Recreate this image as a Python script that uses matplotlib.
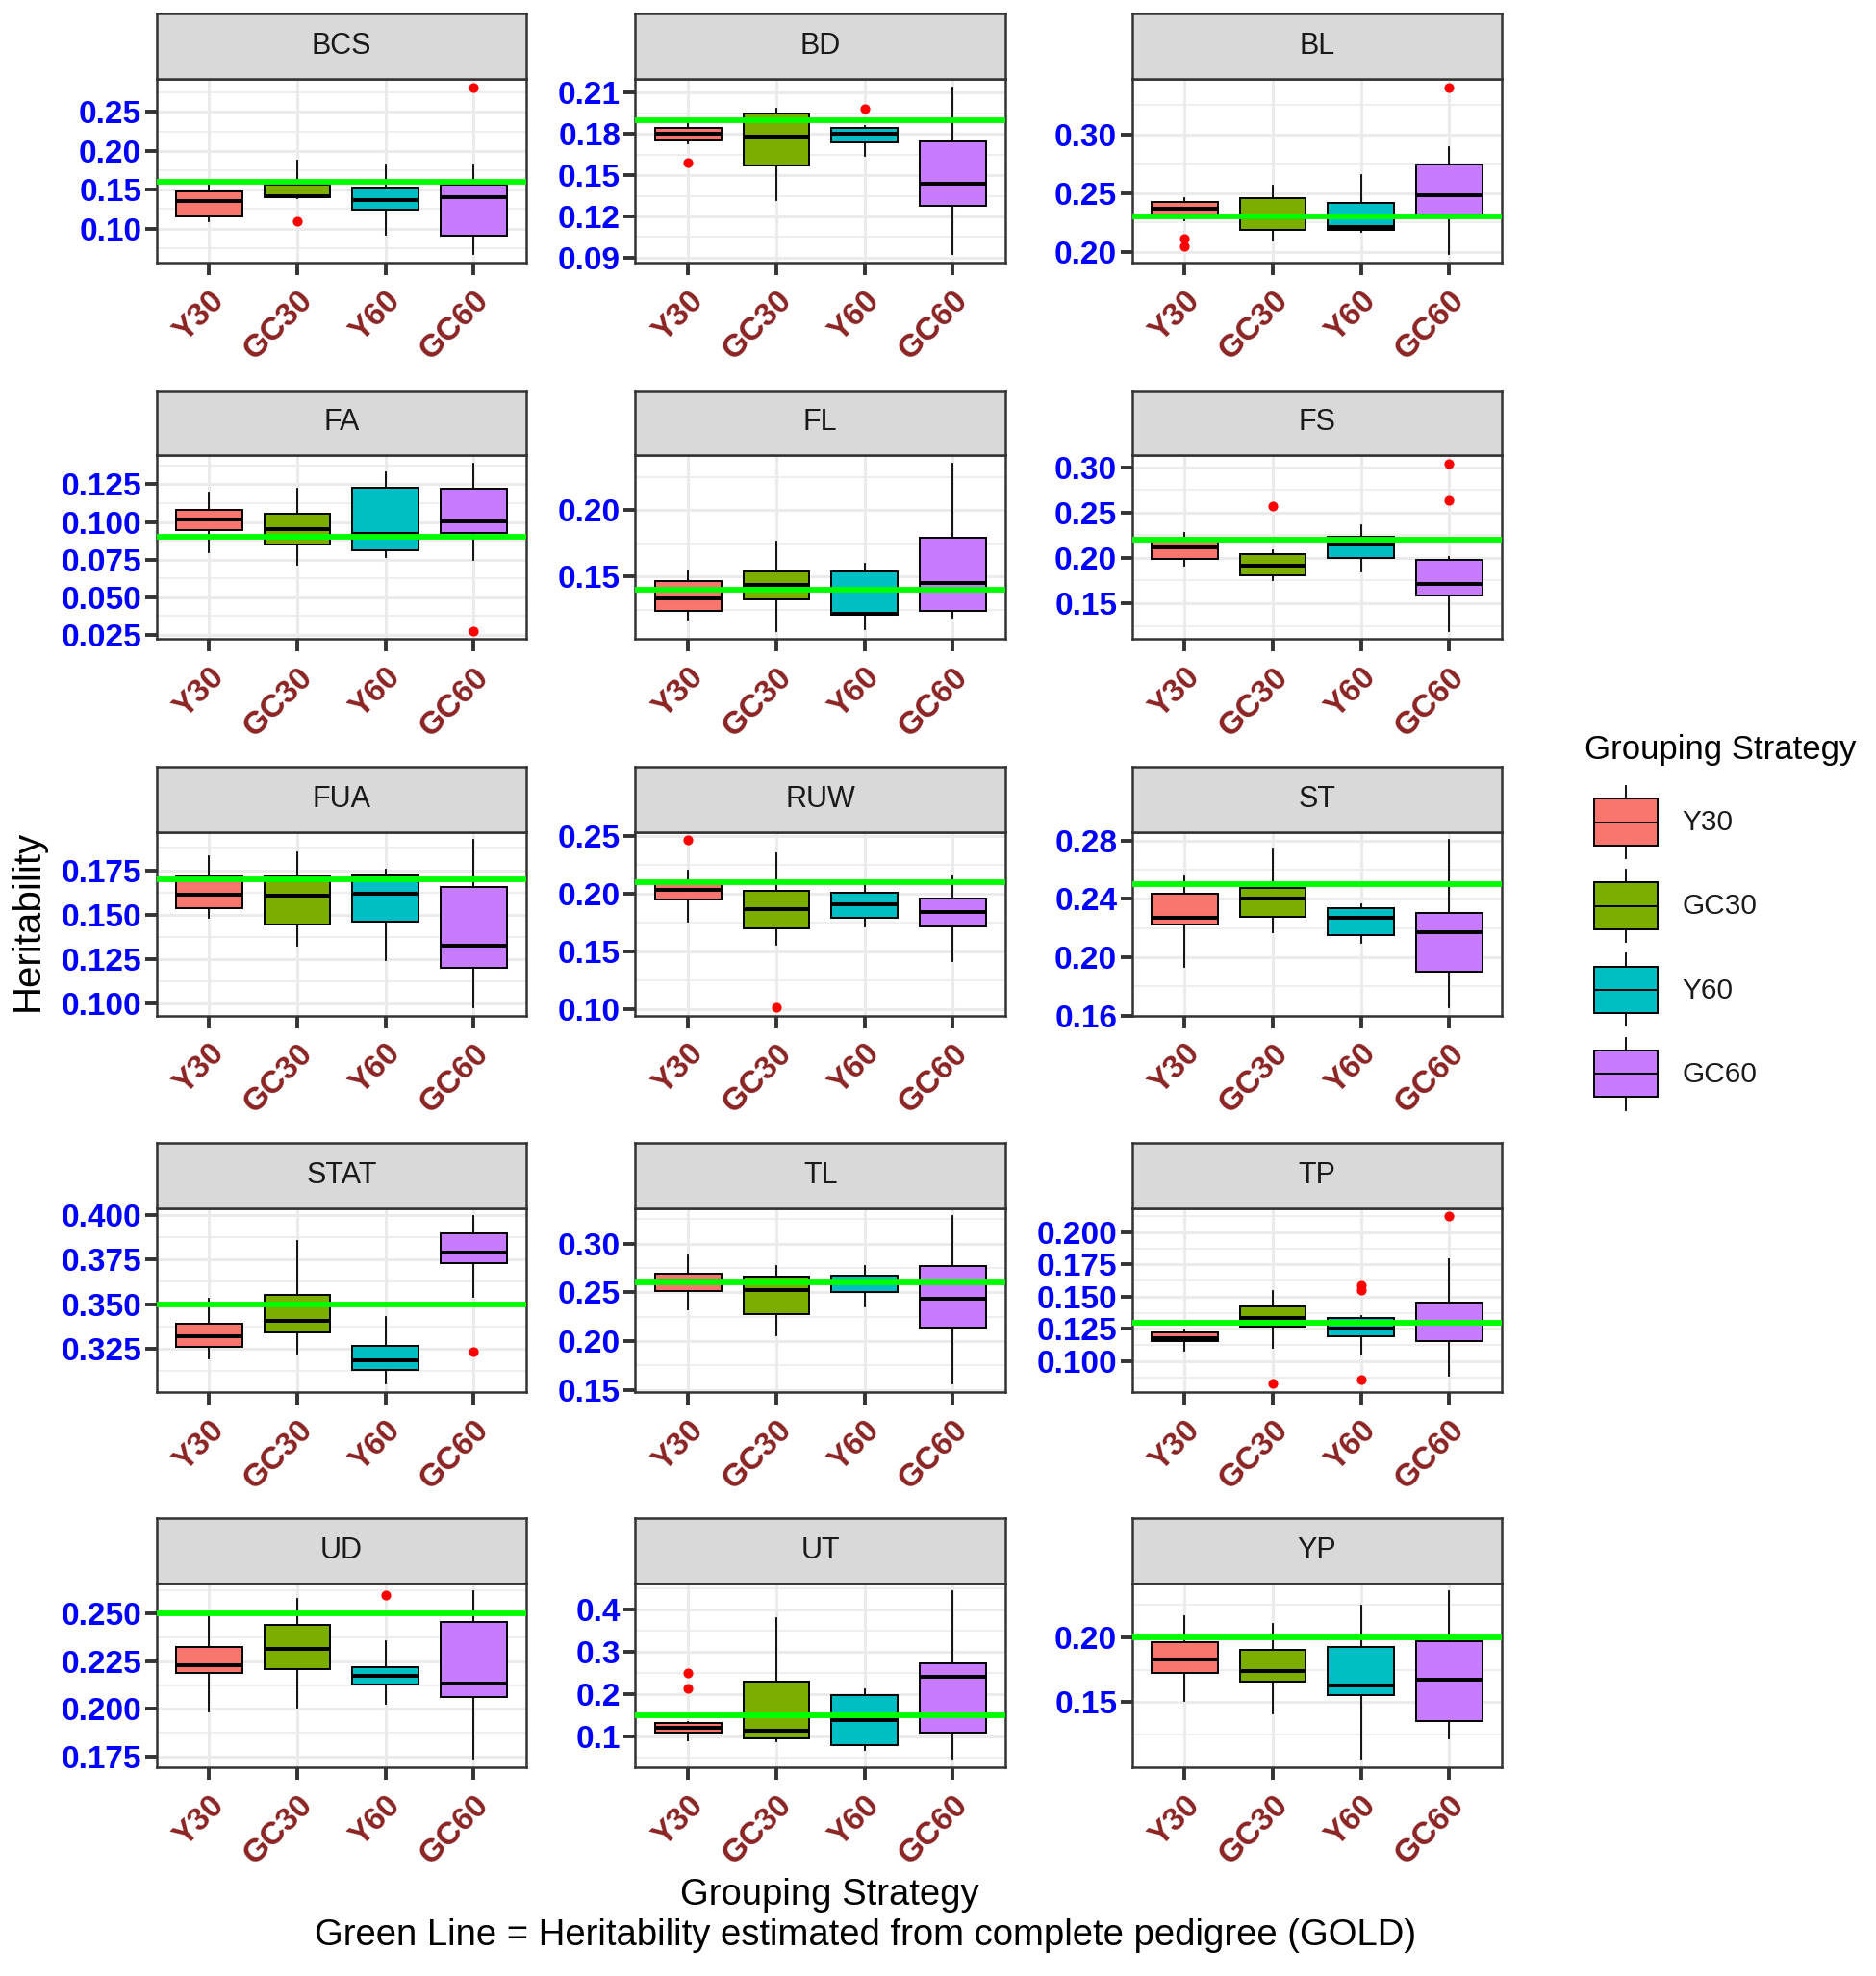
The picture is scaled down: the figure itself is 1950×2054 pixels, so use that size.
import matplotlib
matplotlib.use('Agg')
import matplotlib.pyplot as plt

plt.rcParams['font.family'] = ['Liberation Sans', 'DejaVu Sans']

traits = ['BCS', 'BD', 'BL', 'FA', 'FL', 'FS', 'FUA', 'RUW', 'ST',
          'STAT', 'TL', 'TP', 'UD', 'UT', 'YP']
groups = ['Y30', 'GC30', 'Y60', 'GC60']
group_colors = ['#F8766D', '#7CAE00', '#00BFC4', '#C77CFF']

# box statistics, one row per trait, one column per group
whisker_lo = [
    [0.110, 0.139, 0.092, 0.067],
    [0.173, 0.132, 0.164, 0.0925],
    [0.227, 0.210, 0.217, 0.198],
    [0.0796, 0.0718, 0.0768, 0.0747],
    [0.1175, 0.109, 0.110, 0.1192],
    [0.1918, 0.176, 0.1847, 0.1197],
    [0.1484, 0.1327, 0.1246, 0.0979],
    [0.1754, 0.1552, 0.1718, 0.1417],
    [0.1937, 0.217, 0.2096, 0.1659],
    [0.3196, 0.3223, 0.3054, 0.3541],
    [0.2325, 0.2061, 0.2358, 0.1565],
    [0.1079, 0.1104, 0.1054, 0.0886],
    [0.1986, 0.2007, 0.2024, 0.1737],
    [0.0909, 0.0887, 0.0684, 0.0482],
    [0.1507, 0.1414, 0.1064, 0.1224],
]
q1 = [
    [0.116, 0.141, 0.124, 0.091],
    [0.175, 0.157, 0.174, 0.128],
    [0.2315, 0.219, 0.219, 0.2315],
    [0.0948, 0.0849, 0.0813, 0.0929],
    [0.124, 0.1325, 0.1211, 0.1243],
    [0.1992, 0.1805, 0.1999, 0.1587],
    [0.1536, 0.1443, 0.1461, 0.1202],
    [0.1948, 0.1699, 0.1787, 0.1713],
    [0.2225, 0.2275, 0.2149, 0.190],
    [0.3262, 0.3339, 0.313, 0.3729],
    [0.2511, 0.2276, 0.2504, 0.2136],
    [0.1153, 0.1264, 0.119, 0.1153],
    [0.2187, 0.2208, 0.2128, 0.206],
    [0.1097, 0.0962, 0.0812, 0.1097],
    [0.1722, 0.1655, 0.1557, 0.1355],
]
median = [
    [0.136, 0.142, 0.137, 0.140],
    [0.180, 0.178, 0.180, 0.1435],
    [0.237, 0.229, 0.221, 0.248],
    [0.1018, 0.095, 0.092, 0.1005],
    [0.1332, 0.1435, 0.122, 0.1452],
    [0.2111, 0.1918, 0.2146, 0.1717],
    [0.1613, 0.1607, 0.1616, 0.1327],
    [0.203, 0.1865, 0.1906, 0.1837],
    [0.2269, 0.2402, 0.2269, 0.2173],
    [0.3321, 0.3405, 0.3184, 0.3786],
    [0.261, 0.2527, 0.261, 0.2436],
    [0.1178, 0.1331, 0.1252, 0.130],
    [0.2229, 0.2313, 0.2175, 0.2133],
    [0.121, 0.1135, 0.1382, 0.241],
    [0.1828, 0.1741, 0.1631, 0.1672],
]
q3 = [
    [0.148, 0.157, 0.153, 0.156],
    [0.1845, 0.195, 0.184, 0.1745],
    [0.242, 0.246, 0.2417, 0.274],
    [0.1077, 0.1056, 0.1229, 0.1218],
    [0.1464, 0.1536, 0.1536, 0.1796],
    [0.2216, 0.204, 0.2234, 0.198],
    [0.1716, 0.1714, 0.172, 0.1657],
    [0.211, 0.2022, 0.2003, 0.1953],
    [0.2435, 0.2472, 0.2334, 0.2302],
    [0.3387, 0.3554, 0.3268, 0.3896],
    [0.269, 0.2664, 0.2674, 0.2765],
    [0.1222, 0.1425, 0.1338, 0.1454],
    [0.2323, 0.2439, 0.222, 0.2456],
    [0.1322, 0.2297, 0.1975, 0.2732],
    [0.1958, 0.1901, 0.1926, 0.1968],
]
whisker_hi = [
    [0.156, 0.187, 0.183, 0.183],
    [0.188, 0.198, 0.186, 0.214],
    [0.246, 0.256, 0.265, 0.289],
    [0.1197, 0.1218, 0.133, 0.1387],
    [0.1548, 0.1764, 0.1596, 0.2353],
    [0.228, 0.2086, 0.2357, 0.2006],
    [0.183, 0.1848, 0.1755, 0.192],
    [0.2196, 0.2348, 0.2119, 0.2149],
    [0.2553, 0.2745, 0.2363, 0.2804],
    [0.353, 0.3854, 0.3429, 0.3991],
    [0.2876, 0.2765, 0.2772, 0.3277],
    [0.1244, 0.1541, 0.1351, 0.1788],
    [0.2487, 0.2579, 0.2356, 0.2616],
    [0.1345, 0.3782, 0.2125, 0.4413],
    [0.216, 0.2099, 0.2239, 0.235],
]
outliers = [
    [[], [0.109], [], [0.282]],
    [[0.159], [], [0.198], []],
    [[0.211, 0.205], [], [], [0.340]],
    [[], [], [], [0.0278]],
    [[], [], [], []],
    [[], [0.2568], [], [0.304, 0.2638]],
    [[], [], [], []],
    [[0.2464], [0.1014], [], []],
    [[], [], [], []],
    [[], [], [], [0.3232]],
    [[], [], [], []],
    [[], [0.0825], [0.1585, 0.1548, 0.0857], [0.2123]],
    [[], [], [0.2599], []],
    [[0.250, 0.2147], [], [], []],
    [[], [], [], []],
]
gold = [0.16, 0.19, 0.23, 0.09, 0.14, 0.22, 0.17, 0.21, 0.25,
        0.35, 0.26, 0.13, 0.25, 0.15, 0.20]

y_ticks = [
    [0.10, 0.15, 0.20, 0.25],
    [0.09, 0.12, 0.15, 0.18, 0.21],
    [0.20, 0.25, 0.30],
    [0.025, 0.050, 0.075, 0.100, 0.125],
    [0.15, 0.20],
    [0.15, 0.20, 0.25, 0.30],
    [0.100, 0.125, 0.150, 0.175],
    [0.10, 0.15, 0.20, 0.25],
    [0.16, 0.20, 0.24, 0.28],
    [0.325, 0.350, 0.375, 0.400],
    [0.15, 0.20, 0.25, 0.30],
    [0.100, 0.125, 0.150, 0.175, 0.200],
    [0.175, 0.200, 0.225, 0.250],
    [0.1, 0.2, 0.3, 0.4],
    [0.15, 0.20],
]
y_decimals = [2, 2, 2, 3, 2, 2, 3, 2, 2, 3, 2, 3, 3, 1, 2]

# layout in a 1500 x 1580 reference grid
W, H = 1500.0, 1580.0
COL_X = [125, 508, 905]
ROW_Y = [63, 364, 665, 966, 1266]
PANEL_W, PANEL_H, STRIP_H = 296, 147, 52
BORDER = '#333333'
GRID = '#EBEBEB'

fig = plt.figure(figsize=(19.5, 20.54), dpi=100)

for k, trait in enumerate(traits):
    r, c = divmod(k, 3)
    left = COL_X[c] / W
    bottom = 1 - (ROW_Y[r] + PANEL_H) / H
    ax = fig.add_axes([left, bottom, PANEL_W / W, PANEL_H / H])
    sax = fig.add_axes([left, bottom + PANEL_H / H, PANEL_W / W, STRIP_H / H])

    stats = []
    for g in range(len(groups)):
        stats.append(dict(whislo=whisker_lo[k][g], q1=q1[k][g], med=median[k][g],
                          q3=q3[k][g], whishi=whisker_hi[k][g], fliers=outliers[k][g]))
    bp = ax.bxp(stats, positions=[1, 2, 3, 4], widths=0.75, patch_artist=True,
                showcaps=False,
                boxprops=dict(edgecolor='black', linewidth=1.4),
                medianprops=dict(color='black', linewidth=2.9),
                whiskerprops=dict(color='black', linewidth=1.3),
                flierprops=dict(marker='o', markerfacecolor='red', markeredgecolor='red',
                                markersize=6.3, linestyle='none'))
    for box, col in zip(bp['boxes'], group_colors):
        box.set_facecolor(col)
    ax.axhline(gold[k], color='#00FF00', linewidth=4.2, zorder=5)

    vals = whisker_lo[k] + whisker_hi[k] + [gold[k]] + [v for o in outliers[k] for v in o]
    lo, hi = min(vals), max(vals)
    pad = 0.05 * (hi - lo)
    ax.set_ylim(lo - pad, hi + pad)
    ax.set_xlim(0.4, 4.6)

    ticks = y_ticks[k]
    step = ticks[1] - ticks[0]
    minors = [ticks[0] - step / 2 + step * i for i in range(len(ticks) + 1)]
    minors = [m for m in minors if lo - pad < m < hi + pad]
    ax.set_yticks(ticks)
    ax.set_yticklabels([f'{t:.{y_decimals[k]}f}' for t in ticks],
                       color='blue', fontweight='bold', fontsize=24)
    ax.set_yticks(minors, minor=True)
    ax.set_xticks([1, 2, 3, 4])
    ax.set_xticklabels(groups, rotation=45, ha='right', va='top', rotation_mode='anchor',
                       color='#8B2323', fontweight='bold', fontsize=24)
    ax.tick_params(which='major', length=9, width=2.8, color=BORDER)
    ax.tick_params(axis='y', pad=2)
    ax.tick_params(axis='x', pad=8)
    ax.tick_params(which='minor', length=0)
    ax.set_axisbelow(True)
    ax.grid(which='major', color=GRID, linewidth=2.2)
    ax.grid(which='minor', axis='y', color=GRID, linewidth=1.2)
    for sp in ax.spines.values():
        sp.set_color(BORDER)
        sp.set_linewidth(1.8)

    sax.set_facecolor('#D9D9D9')
    sax.set_xticks([])
    sax.set_yticks([])
    for sp in sax.spines.values():
        sp.set_color(BORDER)
        sp.set_linewidth(1.8)
    sax.text(0.5, 0.5, trait, ha='center', va='center', fontsize=22,
             color='#1A1A1A', transform=sax.transAxes)

# legend
lax = fig.add_axes([1262 / W, 1 - 892 / H, 76 / W, 268 / H])
leg_stats = [dict(whislo=i - 0.43, q1=i - 0.28, med=i, q3=i + 0.28, whishi=i + 0.43, fliers=[])
             for i in range(len(groups))]
lbp = lax.bxp(leg_stats, positions=[0.5] * len(groups), widths=0.66, patch_artist=True,
              showcaps=False, showfliers=False,
              boxprops=dict(edgecolor='black', linewidth=1.4),
              medianprops=dict(color='black', linewidth=1.4),
              whiskerprops=dict(color='black', linewidth=1.3))
for box, col in zip(lbp['boxes'], group_colors):
    box.set_facecolor(col)
lax.set_xlim(0, 1)
lax.set_ylim(len(groups) - 0.5, -0.5)
lax.axis('off')
for i, g in enumerate(groups):
    fig.text(1345 / W, 1 - (658 + 67 * i) / H, g, ha='left', va='center',
             fontsize=21.5, color='#1A1A1A')
fig.text(1267 / W, 1 - 600 / H, 'Grouping Strategy', ha='left', va='center',
         fontsize=25, color='black')

fig.text(663 / W, 1 - 1515 / H, 'Grouping Strategy', ha='center', va='center',
         fontsize=27.5, color='black')
fig.text(692 / W, 1 - 1548 / H,
         'Green Line = Heritability estimated from complete pedigree (GOLD)',
         ha='center', va='center', fontsize=27.5, color='black')
fig.text(22 / W, 1 - 736 / H, 'Heritability', ha='center', va='center',
         rotation=90, fontsize=29, color='black')

fig.savefig('out.png', dpi=100)
